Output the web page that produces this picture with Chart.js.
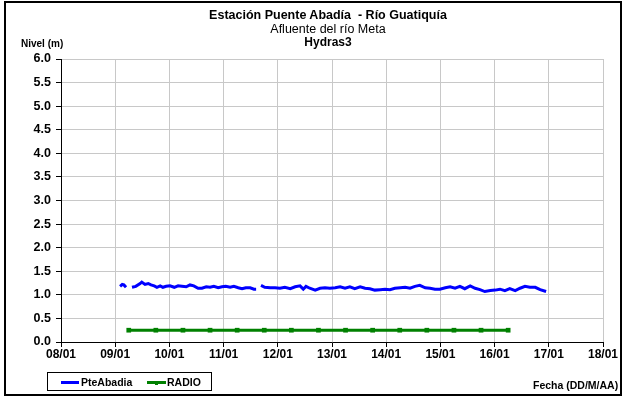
<!DOCTYPE html>
<html>
<head>
<meta charset="utf-8">
<script src="https://cdn.jsdelivr.net/npm/chart.js@4"></script>
<style>
  html,body{margin:0;padding:0;background:#fff;}
  #wrap{position:relative;width:624px;height:397px;overflow:hidden;font-family:"Liberation Sans",Arial,sans-serif;}
  #frame{position:absolute;left:4px;top:1px;width:618px;height:395px;border:2px solid #000;box-sizing:border-box;pointer-events:none;}
  canvas{position:absolute;left:0;top:0;}
  .t{position:absolute;left:0;width:656px;text-align:center;color:#000;white-space:pre;line-height:13px;}
  .lbl{position:absolute;font-weight:bold;color:#000;white-space:nowrap;}
  #legend{position:absolute;left:47px;top:372px;width:165px;height:19px;border:1px solid #000;box-sizing:border-box;font-size:10.5px;font-weight:bold;}
  #legend .sw{position:absolute;top:8px;height:3px;}
  #legend .tx{position:absolute;top:3px;}
  #legend .dot{position:absolute;top:8px;width:3px;height:4px;background:#008000;}
</style>
</head>
<body>
<div id="wrap">
  <canvas id="c" width="624" height="397"></canvas>
  <div class="t" style="top:9px;font-size:12.5px;font-weight:bold;">Estación Puente Abadía  - Río Guatiquía</div>
  <div class="t" style="top:23px;font-size:12.5px;">Afluente del río Meta</div>
  <div class="t" style="top:36px;font-size:12px;font-weight:bold;">Hydras3</div>
  <div class="lbl" style="left:21px;top:38px;font-size:10px;">Nivel (m)</div>
  <div class="lbl" style="left:533px;top:379px;font-size:10.5px;">Fecha (DD/M/AA)</div>
  <div id="legend">
    <div class="sw" style="left:13px;width:18px;background:#0000ff;"></div>
    <div class="tx" style="left:33px;">PteAbadia</div>
    <div class="sw" style="left:99px;width:19px;background:#008000;"></div>
    <div class="dot" style="left:107px;"></div>
    <div class="tx" style="left:119px;">RADIO</div>
  </div>
  <div id="frame"></div>
</div>
<script>
// Day of January (fractional) and level in metres
const seriesNames = ["PteAbadia", "RADIO"];
const pteDays = [9.09,9.13,9.16,9.20,9.25,9.31,9.38,9.46,9.49,9.55,9.61,9.66,9.72,9.77,9.83,9.88,9.94,
  10.01,10.09,10.16,10.23,10.31,10.38,10.45,10.53,10.60,10.68,10.75,10.82,10.90,10.97,
  11.04,11.12,11.19,11.27,11.34,11.41,11.49,11.56,11.60,11.64,11.69,11.76,11.86,11.95,
  12.04,12.13,12.23,12.32,12.41,12.47,12.52,12.59,12.69,12.78,12.87,12.96,
  13.06,13.15,13.24,13.33,13.42,13.52,13.61,13.70,13.79,13.89,13.98,
  14.07,14.16,14.26,14.35,14.44,14.53,14.62,14.72,14.81,14.90,14.99,
  15.09,15.18,15.27,15.36,15.45,15.55,15.64,15.73,15.82,15.92,
  16.01,16.10,16.19,16.28,16.38,16.47,16.56,16.65,16.75,16.84,16.95];
const pteLevels = [1.18,1.22,1.21,1.16,null,1.16,1.18,1.24,1.27,1.22,1.24,1.21,1.19,1.16,1.19,1.16,1.18,
  1.19,1.16,1.19,1.18,1.17,1.21,1.19,1.14,1.14,1.17,1.16,1.18,1.15,1.17,
  1.18,1.16,1.18,1.15,1.13,1.15,1.15,1.12,1.12,null,1.20,1.16,1.15,1.15,
  1.14,1.16,1.13,1.17,1.19,1.12,1.18,1.14,1.10,1.14,1.15,1.14,
  1.15,1.17,1.14,1.17,1.13,1.17,1.14,1.13,1.10,1.11,1.12,
  1.11,1.14,1.15,1.16,1.14,1.18,1.20,1.15,1.14,1.12,1.12,
  1.15,1.17,1.14,1.18,1.13,1.19,1.14,1.11,1.07,1.09,
  1.10,1.12,1.09,1.13,1.09,1.14,1.18,1.16,1.16,1.11,1.07];
const radioDays = [9.25,9.75,10.25,10.75,11.25,11.75,12.25,12.75,13.25,13.75,14.25,14.75,15.25,15.75,16.25];
const radioLevels = [0.25,0.25,0.25,0.25,0.25,0.25,0.25,0.25,0.25,0.25,0.25,0.25,0.25,0.25,0.25];
const xTickDays = [8,9,10,11,12,13,14,15,16,17,18];
const xTickLabels = ["08/01","09/01","10/01","11/01","12/01","13/01","14/01","15/01","16/01","17/01","18/01"];

const xTickFont = {family:"'Liberation Sans', Arial, sans-serif", size:12, weight:'bold'};
const yTickFont = {family:"'Liberation Sans', Arial, sans-serif", size:12.5, weight:'bold'};
const gridColor = '#c8c8c8';

new Chart(document.getElementById('c'), {
  type: 'line',
  data: {
    datasets: [
      {
        label: seriesNames[0],
        data: pteDays.map((d,i)=>({x:d, y:pteLevels[i]})),
        borderColor: '#0000ff',
        borderWidth: 3,
        pointRadius: 0,
        tension: 0,
        spanGaps: false
      },
      {
        label: seriesNames[1],
        data: radioDays.map((d,i)=>({x:d, y:radioLevels[i]})),
        borderColor: '#008000',
        backgroundColor: '#008000',
        borderWidth: 3,
        pointRadius: 1.2,
        pointStyle: 'rect',
        tension: 0
      }
    ]
  },
  options: {
    responsive: false,
    animation: false,
    devicePixelRatio: 1,
    layout: {padding: {left: 0, right: 21, top: 59, bottom: 0}},
    plugins: {legend: {display: false}, title: {display: false}, tooltip: {enabled: false}},
    scales: {
      x: {
        type: 'linear',
        min: 8, max: 18,
        afterFit: s => { s.height = 55; },
        afterBuildTicks: s => { s.ticks = xTickDays.map(v => ({value: v})); },
        ticks: {
          font: xTickFont, color: '#000', padding: 0, maxRotation: 0, autoSkip: false,
          callback: (v) => xTickLabels[xTickDays.indexOf(v)]
        },
        grid: {color: gridColor, lineWidth: 1, tickLength: 5, tickColor: '#000'},
        border: {color: '#000', width: 1}
      },
      y: {
        min: 0, max: 6,
        afterFit: s => { s.width = 61; },
        ticks: {
          stepSize: 0.5, font: yTickFont, color: '#000', padding: 5,
          callback: v => v.toFixed(1)
        },
        grid: {color: gridColor, lineWidth: 1, tickLength: 5, tickColor: '#000'},
        border: {color: '#000', width: 1}
      }
    }
  }
});
</script>
</body>
</html>
